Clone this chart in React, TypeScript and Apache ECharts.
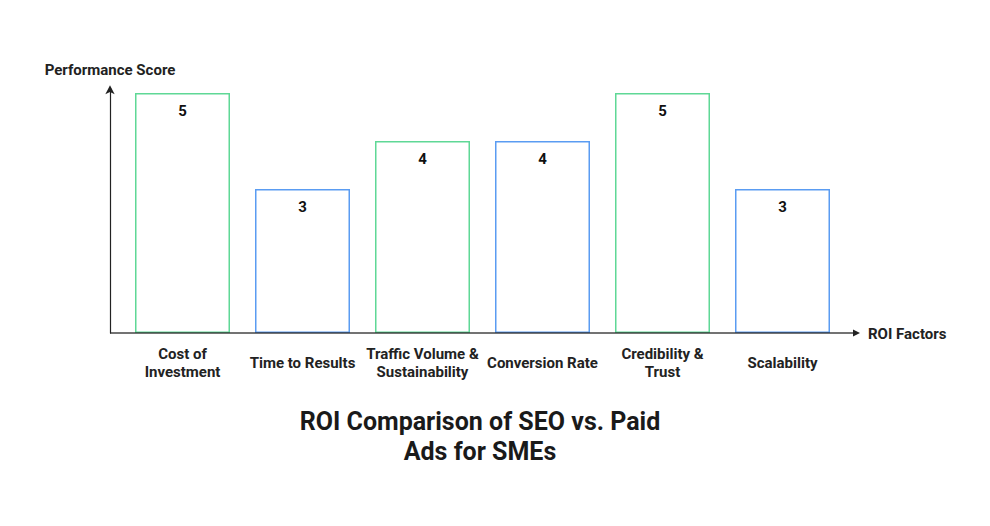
import { useEffect, useRef } from 'react';
import * as echarts from 'echarts';
import type { EChartsOption } from 'echarts';

const factors = [
  'Cost of\nInvestment',
  'Time to Results',
  'Traffic Volume &\nSustainability',
  'Conversion Rate',
  'Credibility &\nTrust',
  'Scalability',
];
const scores = [5, 3, 4, 4, 5, 3];
const barColors = ['#5fd896', '#5a9cf2', '#5fd896', '#5a9cf2', '#5fd896', '#5a9cf2'];

const FONT = 'Roboto, "Noto Sans", sans-serif';

function buildOption(): EChartsOption {
  return {
    animation: false,
    textStyle: { fontFamily: FONT },
    title: {
      text: 'ROI Comparison of SEO vs. Paid\nAds for SMEs',
      left: 475,
      top: 401,
      textAlign: 'center',
      textStyle: {
        fontSize: 25,
        fontWeight: 'bold',
        color: '#1a1a1a',
        lineHeight: 30,
        fontFamily: FONT,
      },
    },
    grid: { left: 122.5, width: 720, top: 88.2, height: 244.8 },
    xAxis: {
      type: 'category',
      data: factors,
      axisLine: { show: false },
      axisTick: { show: false },
      axisLabel: {
        interval: 0,
        margin: 30,
        verticalAlign: 'middle',
        fontSize: 15,
        fontWeight: 'bold',
        color: '#222',
        lineHeight: 18,
        fontFamily: FONT,
      },
    },
    yAxis: {
      type: 'value',
      min: 0,
      max: 5.1,
      offset: 12.5,
      name: 'Performance Score',
      nameLocation: 'end',
      nameGap: 11,
      nameTextStyle: {
        fontSize: 15,
        fontWeight: 'bold',
        color: '#222',
        align: 'center',
        fontFamily: FONT,
      },
      axisLine: {
        show: true,
        symbol: ['none', 'arrow'],
        symbolSize: [7, 9],
        symbolOffset: [0, 3],
        lineStyle: { color: '#222', width: 1.2 },
      },
      axisTick: { show: false },
      axisLabel: { show: false },
      splitLine: { show: false },
    },
    series: [
      {
        type: 'bar',
        data: scores.map((v, i) => ({
          value: v,
          itemStyle: { color: '#fff', borderColor: barColors[i], borderWidth: 1.5 },
        })),
        barWidth: 95,
        label: {
          show: true,
          position: 'insideTop',
          distance: 10,
          fontSize: 15,
          fontWeight: 'bold',
          color: '#111',
          fontFamily: FONT,
        },
      },
    ],
    graphic: [
      {
        type: 'line',
        z: 100,
        shape: { x1: 110, y1: 333, x2: 855, y2: 333 },
        style: { stroke: 'rgba(40,40,40,0.65)', lineWidth: 2 },
      },
      {
        type: 'polygon',
        z: 100,
        shape: { points: [[853, 329.5], [860, 333], [853, 336.5]] },
        style: { fill: '#222' },
      },
      {
        type: 'text',
        x: 868,
        y: 334,
        style: {
          text: 'ROI Factors',
          fontSize: 15,
          fontWeight: 'bold',
          fill: '#222',
          verticalAlign: 'middle',
          fontFamily: FONT,
        },
      },
    ],
  };
}

export default function App() {
  const ref = useRef<HTMLDivElement>(null);

  useEffect(() => {
    document.body.style.margin = '0';
    if (!ref.current) return;
    const chart = echarts.init(ref.current, undefined, { renderer: 'svg' });
    chart.setOption(buildOption());
    return () => chart.dispose();
  }, []);

  return <div ref={ref} style={{ width: 990, height: 526, background: '#fff' }} />;
}
